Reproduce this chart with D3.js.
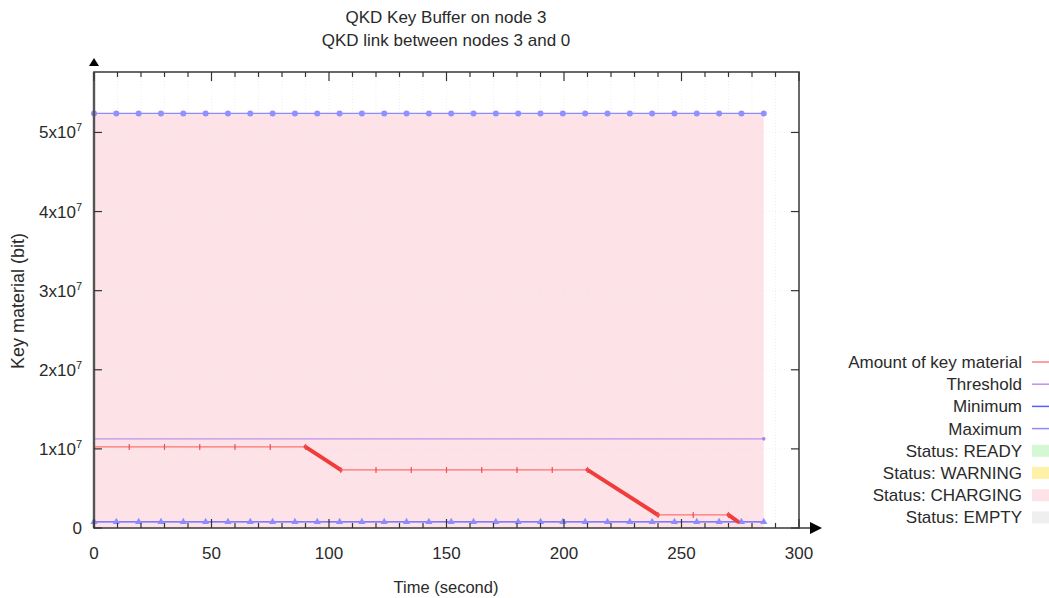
<!DOCTYPE html>
<html lang="en">
<head>
<meta charset="UTF-8">
<title>QKD Key Buffer</title>
<style>
  body { margin: 0; background: #fff; }
  text { font-family: "Liberation Sans", Arial, sans-serif; fill: #2a2a2a; }
</style>
</head>
<body>
<svg id="chart" width="1049" height="598"></svg>
<script src="https://d3js.org/d3.v7.min.js"></script>
<script>
// data
var keyTime   = [0, 15, 30, 45, 60, 75, 90, 105, 120, 135, 150, 165, 180, 195, 210, 240, 255, 270, 274];
var keyAmount = [1.025e7, 1.025e7, 1.025e7, 1.025e7, 1.025e7, 1.025e7, 1.025e7,
                 0.734e7, 0.734e7, 0.734e7, 0.734e7, 0.734e7, 0.734e7, 0.734e7, 0.734e7,
                 0.165e7, 0.165e7, 0.165e7, 0.08e7];
var sampleTime = [0, 9.5, 19, 28.5, 38, 47.5, 57, 66.5, 76, 85.5, 95, 104.5, 114, 123.5, 133,
                  142.5, 152, 161.5, 171, 180.5, 190, 199.5, 209, 218.5, 228, 237.5, 247, 256.5,
                  266, 275.5, 285];
var maximum = 5.24e7;
var minimum = 0.078e7;
var threshold = 1.127e7;
var chargingFrom = 0, chargingTo = 285;
var xTicks = [0, 50, 100, 150, 200, 250, 300];
var yTicks = [0, 1, 2, 3, 4, 5];   // x10^7
var legendNames = ["Amount of key material", "Threshold", "Minimum", "Maximum",
                   "Status: READY", "Status: WARNING", "Status: CHARGING", "Status: EMPTY"];
var legendColors = ["#ff8080", "#c090f0", "#5a5aff", "#8c8cff",
                    "#d4f7d4", "#fff2a8", "#fde3e8", "#efefef"];

var svg = d3.select("#chart");
var L = 94, R = 799, T = 72, B = 528;

var x = d3.scaleLinear().domain([0, 300]).range([L, R]);
var y = d3.scaleLinear().domain([0, maximum * 1.1]).range([B, T]);

// charging area
svg.append("rect")
   .attr("x", x(chargingFrom)).attr("y", y(maximum))
   .attr("width", x(chargingTo) - x(chargingFrom))
   .attr("height", y(0) - y(maximum))
   .style("fill", "#fde3e8");

// faint grid
svg.append("g").selectAll("line").data(d3.range(10, 300, 10)).enter().append("line")
   .attr("x1", d => x(d)).attr("x2", d => x(d)).attr("y1", T).attr("y2", B)
   .style("stroke", "#e6e6e6").style("stroke-width", 0.6).style("stroke-dasharray", "1,2");
svg.append("g").selectAll("line").data(yTicks.slice(1)).enter().append("line")
   .attr("x1", L).attr("x2", R).attr("y1", d => y(d * 1e7)).attr("y2", d => y(d * 1e7))
   .style("stroke", "#e6e6e6").style("stroke-width", 0.6).style("stroke-dasharray", "1,2");

// maximum
svg.append("line").attr("x1", x(0)).attr("x2", x(285)).attr("y1", y(maximum)).attr("y2", y(maximum))
   .style("stroke", legendColors[3]).style("stroke-width", 1.3);
svg.append("g").selectAll("circle").data(sampleTime).enter().append("circle")
   .attr("cx", d => x(d)).attr("cy", y(maximum)).attr("r", 3)
   .style("fill", "#9090ff");

// threshold
svg.append("line").attr("x1", x(0)).attr("x2", x(285)).attr("y1", y(threshold)).attr("y2", y(threshold))
   .style("stroke", legendColors[1]).style("stroke-width", 1.3);
svg.append("circle").attr("cx", x(285)).attr("cy", y(threshold)).attr("r", 1.8).style("fill", "#b080f0");

// minimum
svg.append("line").attr("x1", x(0)).attr("x2", x(285)).attr("y1", y(minimum)).attr("y2", y(minimum))
   .style("stroke", legendColors[2]).style("stroke-width", 1.2);
svg.append("g").selectAll("path").data(sampleTime).enter().append("path")
   .attr("d", d3.symbol().type(d3.symbolTriangle).size(22))
   .attr("transform", d => "translate(" + x(d) + "," + y(minimum) + ")")
   .style("fill", "#8c8cff");

// amount of key material
var keyData = keyTime.map((t, i) => [t, keyAmount[i]]);
for (var i = 1; i < keyData.length; i++) {
  var a = keyData[i - 1], b = keyData[i];
  var drop = b[1] < a[1];
  svg.append("line")
     .attr("x1", x(a[0])).attr("y1", y(a[1])).attr("x2", x(b[0])).attr("y2", y(b[1]))
     .style("stroke", drop ? "#f23b3b" : "#ff7070")
     .style("stroke-width", drop ? 4 : 1.2)
     .style("stroke-linecap", "round");
}
svg.append("g").selectAll("line").data(keyData.slice(1, -1)).enter().append("line")
   .attr("x1", d => x(d[0])).attr("x2", d => x(d[0]))
   .attr("y1", d => y(d[1]) - 3).attr("y2", d => y(d[1]) + 3)
   .style("stroke", "#f05050").style("stroke-width", 1.2);

// frame
svg.append("rect").attr("x", L).attr("y", T).attr("width", R - L).attr("height", B - T)
   .style("fill", "none").style("stroke", "#444").style("stroke-width", 1.6);
svg.append("line").attr("x1", L).attr("x2", L).attr("y1", B).attr("y2", T)
   .style("stroke", "#555").style("stroke-width", 2.4);

// x axis ticks (bottom and top)
var xMinor = d3.range(0, 301, 10);
svg.append("g").selectAll("line").data(xMinor).enter().append("line")
   .attr("x1", d => x(d)).attr("x2", d => x(d))
   .attr("y1", B).attr("y2", d => B - (d % 50 === 0 ? 9 : 5))
   .style("stroke", "#333").style("stroke-width", 1.2);
svg.append("g").selectAll("line").data(xMinor).enter().append("line")
   .attr("x1", d => x(d)).attr("x2", d => x(d))
   .attr("y1", T).attr("y2", d => T + (d % 50 === 0 ? 9 : 5))
   .style("stroke", "#333").style("stroke-width", 1.2);
svg.append("g").selectAll("text").data(xTicks).enter().append("text")
   .attr("x", d => x(d)).attr("y", 559)
   .attr("text-anchor", "middle").style("font-size", "17px")
   .text(d => d);

// y axis ticks (left and right)
svg.append("g").selectAll("line").data(yTicks).enter().append("line")
   .attr("x1", L).attr("x2", L + 8).attr("y1", d => y(d * 1e7)).attr("y2", d => y(d * 1e7))
   .style("stroke", "#333").style("stroke-width", 1.2);
svg.append("g").selectAll("line").data(yTicks).enter().append("line")
   .attr("x1", R).attr("x2", R - 8).attr("y1", d => y(d * 1e7)).attr("y2", d => y(d * 1e7))
   .style("stroke", "#333").style("stroke-width", 1.2);
var yl = svg.append("g").selectAll("text").data(yTicks).enter().append("text")
   .attr("x", 82).attr("y", d => y(d * 1e7) + 6)
   .attr("text-anchor", "end").style("font-size", "17px");
yl.filter(d => d === 0).text("0");
yl.filter(d => d > 0).each(function (d) {
  var t = d3.select(this);
  t.append("tspan").text(d + "x10");
  t.append("tspan").attr("dy", -7).style("font-size", "11px").text("7");
});

// arrows
svg.append("line").attr("x1", R).attr("x2", 812).attr("y1", B).attr("y2", B)
   .style("stroke", "#444").style("stroke-width", 1.6);
svg.append("path").attr("d", "M810," + (B - 6) + "L822," + B + "L810," + (B + 6) + "Z").style("fill", "#000");
svg.append("path").attr("d", "M" + (L - 5) + ",66L" + L + ",58L" + (L + 5) + ",66Z").style("fill", "#000");

// titles
svg.append("text").attr("x", 446).attr("y", 23).attr("text-anchor", "middle").style("font-size", "17px")
   .text("QKD Key Buffer on node 3");
svg.append("text").attr("x", 446).attr("y", 46).attr("text-anchor", "middle").style("font-size", "17px")
   .text("QKD link between nodes 3 and 0");
svg.append("text").attr("x", 446).attr("y", 593).attr("text-anchor", "middle").style("font-size", "16.5px")
   .text("Time (second)");
svg.append("text").attr("transform", "translate(24,301) rotate(-90)").attr("text-anchor", "middle")
   .style("font-size", "18px").text("Key material (bit)");

// legend
var lg = svg.append("g").selectAll("g").data(legendNames).enter().append("g")
   .attr("transform", (d, i) => "translate(0," + (362 + i * 22.2) + ")");
lg.append("text").attr("x", 1022).attr("y", 6).attr("text-anchor", "end").style("font-size", "17px")
  .text(d => d);
lg.filter((d, i) => i < 4).append("line")
  .attr("x1", 1032).attr("x2", 1049).attr("y1", 0).attr("y2", 0)
  .style("stroke", (d, i) => legendColors[i]).style("stroke-width", 1.5);
lg.filter((d, i) => i >= 4).append("rect")
  .attr("x", 1032).attr("y", -6).attr("width", 17).attr("height", 12)
  .style("fill", (d, i) => legendColors[i + 4]);
</script>
</body>
</html>
